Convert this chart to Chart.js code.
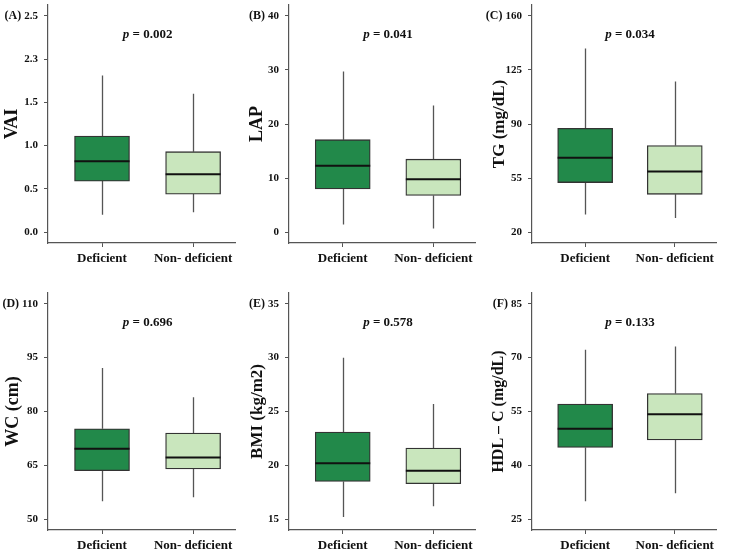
<!DOCTYPE html>
<html>
<head>
<meta charset="utf-8">
<script src="https://cdn.jsdelivr.net/npm/chart.js@4"></script>
<style>
  body { margin: 0; background: #fff; }
  #wrap { position: relative; width: 733px; height: 555px; }
  canvas { position: absolute; }
</style>
</head>
<body>
<div id="wrap"></div>
<script>
// ----------------------------------------------------------------------
//  data (five-number summaries: min, q1, median, q3, max)
// ----------------------------------------------------------------------
const groups = ['Deficient', 'Non- deficient']

const vaiDeficient = [0.20, 0.59, 0.82, 1.11, 1.81]
const vaiNonDeficient = [0.23, 0.44, 0.67, 0.93, 1.60]
const lapDeficient = [1.4, 8.0, 12.3, 17.1, 29.7]
const lapNonDeficient = [0.7, 6.8, 9.8, 13.5, 23.4]
const tgDeficient = [31.5, 52.1, 68.2, 87.2, 138.9]
const tgNonDeficient = [29.1, 44.5, 59.3, 76.1, 117.5]
const wcDeficient = [55.0, 63.5, 69.6, 75.2, 92.1]
const wcNonDeficient = [56.1, 64.0, 67.2, 74.0, 84.0]
const bmiDeficient = [15.2, 18.5, 20.2, 23.1, 30.0]
const bmiNonDeficient = [16.2, 18.3, 19.5, 21.6, 25.7]
const hdlDeficient = [30.0, 45.0, 50.2, 57.1, 72.2]
const hdlNonDeficient = [32.2, 47.1, 54.2, 60.0, 73.1]

const vaiTicks = [0, 0.5, 1, 1.5, 2, 2.5]
const vaiTickLabels = ['0.0', '0.5', '1.0', '1.5', '2.3', '2.5']
const lapTicks = [0, 10, 20, 30, 40]
const tgTicks = [20, 55, 90, 125, 160]
const wcTicks = [50, 65, 80, 95, 110]
const bmiTicks = [15, 20, 25, 30, 35]
const hdlTicks = [25, 40, 55, 70, 85]

const pValues = ['0.002', '0.041', '0.034', '0.696', '0.578', '0.133']
const panelLabels = ['(A)', '(B)', '(C)', '(D)', '(E)', '(F)']
const yTitles = ['VAI', 'LAP', 'TG (mg/dL)', 'WC (cm)', 'BMI (kg/m2)', 'HDL \u2013 C (mg/dL)']

// ----------------------------------------------------------------------
const SERIF = '"Liberation Serif", "Times New Roman", serif'
const boxColors = ['#22894a', '#c9e6bd']

const panels = [
    { stats: [vaiDeficient, vaiNonDeficient], ticks: vaiTicks, labels: vaiTickLabels,
      left: 0, top: 0, width: 241, height: 275, padTop: 5, padRight: 6, xH: 32, tSize: 18, tPad: 2 },
    { stats: [lapDeficient, lapNonDeficient], ticks: lapTicks,
      left: 241, top: 0, width: 241, height: 275, padTop: 5, padRight: 7, xH: 32, tSize: 18, tPad: 6 },
    { stats: [tgDeficient, tgNonDeficient], ticks: tgTicks,
      left: 484, top: 0, width: 249, height: 275, padTop: 5, padRight: 17, xH: 32, tSize: 17, tPad: 5 },
    { stats: [wcDeficient, wcNonDeficient], ticks: wcTicks,
      left: 0, top: 275, width: 241, height: 280, padTop: 18, padRight: 6, xH: 25, tSize: 18, tPad: 3 },
    { stats: [bmiDeficient, bmiNonDeficient], ticks: bmiTicks,
      left: 241, top: 275, width: 241, height: 280, padTop: 18, padRight: 7, xH: 25, tSize: 17, tPad: 6 },
    { stats: [hdlDeficient, hdlNonDeficient], ticks: hdlTicks,
      left: 484, top: 275, width: 249, height: 280, padTop: 18, padRight: 17, xH: 25, tSize: 16, tPad: 5 }
]

// whiskers behind the boxes, medians and texts on top
const boxPlugin = {
    id: 'boxWhiskers',
    beforeDatasetsDraw (chart, args, opts) {
        const ctx = chart.ctx
        const y = chart.scales.y
        const meta = chart.getDatasetMeta(0)
        ctx.save()
        ctx.strokeStyle = '#555'
        ctx.lineWidth = 1.3
        opts.stats.forEach((s, i) => {
            const x = Math.round(meta.data[i].x) + 0.5
            ctx.beginPath()
            ctx.moveTo(x, y.getPixelForValue(s[4]))
            ctx.lineTo(x, y.getPixelForValue(s[3]))
            ctx.moveTo(x, y.getPixelForValue(s[1]))
            ctx.lineTo(x, y.getPixelForValue(s[0]))
            ctx.stroke()
        })
        ctx.restore()
    },
    afterDatasetsDraw (chart, args, opts) {
        const ctx = chart.ctx
        const y = chart.scales.y
        const meta = chart.getDatasetMeta(0)
        ctx.save()
        ctx.strokeStyle = '#111'
        ctx.lineWidth = 2
        opts.stats.forEach((s, i) => {
            const bar = meta.data[i]
            const py = y.getPixelForValue(s[2])
            ctx.beginPath()
            ctx.moveTo(bar.x - bar.width / 2, py)
            ctx.lineTo(bar.x + bar.width / 2, py)
            ctx.stroke()
        })
        ctx.restore()
    },
    afterDraw (chart, args, opts) {
        const ctx = chart.ctx
        const x = chart.scales.x
        const y = chart.scales.y
        ctx.save()
        ctx.fillStyle = '#111'
        ctx.textBaseline = 'middle'

        // panel label just left of the top tick label
        ctx.font = 'bold 11px ' + SERIF
        const tickLeft = y.right - 4 - 6 - ctx.measureText(opts.topLabel).width
        ctx.font = 'bold 12px ' + SERIF
        ctx.textAlign = 'right'
        ctx.fillText(opts.panel, tickLeft - 3, y.getPixelForValue(opts.topTick))

        // p value, italic p
        const py = chart.chartArea.top + 30
        ctx.textAlign = 'left'
        ctx.font = 'italic bold 13px ' + SERIF
        const wp = ctx.measureText('p').width
        ctx.font = 'bold 13px ' + SERIF
        const rest = ' = ' + opts.p
        const wr = ctx.measureText(rest).width
        const cx = x.getPixelForValue(1.5)
        const sx = cx - (wp + wr) / 2
        ctx.font = 'italic bold 13px ' + SERIF
        ctx.fillText('p', sx, py)
        ctx.font = 'bold 13px ' + SERIF
        ctx.fillText(rest, sx + wp, py)
        ctx.restore()
    }
}

const wrap = document.getElementById('wrap')

panels.forEach((p, k) => {
    const cv = document.createElement('canvas')
    cv.width = p.width
    cv.height = p.height
    cv.style.left = p.left + 'px'
    cv.style.top = p.top + 'px'
    wrap.appendChild(cv)

    const lo = p.ticks[0]
    const hi = p.ticks[p.ticks.length - 1]
    const pad = (hi - lo) * 0.05
    const tickText = v => p.labels ? p.labels[p.ticks.indexOf(v)] : String(v)

    const config = {
        type: 'bar',
        data: {
            datasets: [{
                data: p.stats.map((s, i) => ({ x: i + 1, y: [s[1], s[3]] })),
                backgroundColor: boxColors,
                borderColor: '#333',
                borderWidth: 1.3,
                borderSkipped: false,
                barThickness: 55
            }]
        },
        options: {
            responsive: false,
            animation: false,
            events: [],
            layout: { padding: { top: p.padTop, right: p.padRight, left: 0, bottom: 0 } },
            plugins: {
                legend: { display: false },
                tooltip: { enabled: false },
                boxWhiskers: {
                    stats: p.stats,
                    p: pValues[k],
                    panel: panelLabels[k],
                    topTick: hi,
                    topLabel: tickText(hi)
                }
            },
            scales: {
                x: {
                    type: 'linear',
                    offset: false,
                    min: 0.407,
                    max: 2.46,
                    afterBuildTicks: s => { s.ticks = groups.map((g, i) => ({ value: i + 1 })) },
                    afterFit: s => { s.height = p.xH; s.paddingLeft = 0; s.paddingRight = 0 },
                    grid: { display: true, offset: false, drawOnChartArea: false, drawTicks: true, tickLength: 4, color: '#555' },
                    border: { display: true, color: '#555', width: 1.2 },
                    ticks: {
                        padding: 4,
                        color: '#111',
                        maxRotation: 0,
                        autoSkip: false,
                        font: { family: SERIF, size: 13, weight: 'bold' },
                        callback: v => groups[v - 1]
                    }
                },
                y: {
                    min: lo - pad,
                    max: hi + pad,
                    afterBuildTicks: s => { s.ticks = p.ticks.map(v => ({ value: v })) },
                    afterFit: s => { s.width = 48; s.paddingTop = 0; s.paddingBottom = 0 },
                    grid: { display: true, drawOnChartArea: false, drawTicks: true, tickLength: 4, color: '#555' },
                    border: { display: true, color: '#555', width: 1.2 },
                    ticks: {
                        padding: 6,
                        color: '#111',
                        font: { family: SERIF, size: 11, weight: 'bold' },
                        callback: v => tickText(v)
                    },
                    title: {
                        display: true,
                        text: yTitles[k],
                        color: '#111',
                        padding: { top: p.tPad, bottom: 0 },
                        font: { family: SERIF, size: p.tSize, weight: 'bold' }
                    }
                }
            }
        },
        plugins: [boxPlugin]
    }
    new Chart(cv, config)
})
</script>
</body>
</html>
